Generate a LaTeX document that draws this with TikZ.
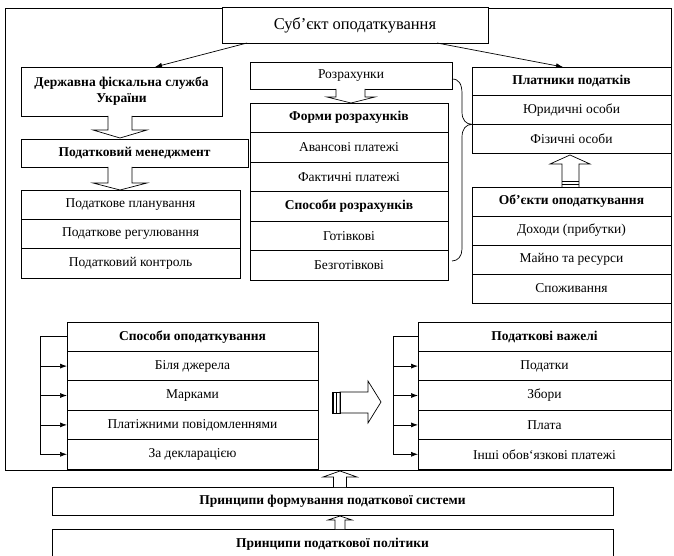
\documentclass[tikz,border=0pt]{standalone}
\usepackage{fontspec}
\setmainfont{Liberation Serif}
\usetikzlibrary{arrows.meta,calc}
\tikzset{
  cell/.style={draw, line width=0.7pt, inner sep=0pt, outer sep=0pt, anchor=north west, align=center, font=\fontsize{13.5}{16}\selectfont},
  bcell/.style={cell, font=\fontsize{13.5}{16}\selectfont\bfseries},
  tcell/.style={cell, font=\fontsize{16.5}{19}\selectfont},
  arr/.style={line width=0.7pt, -{Latex[length=7pt,width=5pt]}},
  ln/.style={line width=0.7pt},
  hollow/.style={line width=0.7pt, fill=white, line join=miter}
}
\newcommand\mycell[7]{\node[#6, minimum width=#4pt, minimum height=#5pt] (#1) at (#2,#3) {#7};}
\begin{document}
\begin{tikzpicture}[x=1pt,y=-1pt]
\useasboundingbox (0,0) rectangle (674,556);
% outer frame
\draw[ln] (5,8) rectangle (671,470);
% title
\mycell{title}{222}{7}{266}{36}{tcell,fill=white}{Суб’єкт оподаткування}
% left column
\mycell{dfs}{21}{67}{201}{49}{bcell}{Державна фіскальна служба\\України}
\mycell{men}{21}{139}{227}{28}{bcell}{Податковий менеджмент}
\mycell{l1}{21}{190}{219}{29.33}{cell}{Податкове планування}
\mycell{l2}{21}{219.33}{219}{29.33}{cell}{Податкове регулювання}
\mycell{l3}{21}{248.67}{219}{29.33}{cell}{Податковий контроль}
% middle column
\mycell{rozr}{250}{62}{202}{27}{cell}{Розрахунки}
\mycell{m1}{250}{103}{198}{29.5}{bcell}{Форми розрахунків}
\mycell{m2}{250}{132.5}{198}{29.5}{cell}{Авансові платежі}
\mycell{m3}{250}{162}{198}{29.5}{cell}{Фактичні платежі}
\mycell{m4}{250}{191.5}{198}{29.5}{bcell}{Способи розрахунків}
\mycell{m5}{250}{221}{198}{29.5}{cell}{Готівкові}
\mycell{m6}{250}{250.5}{198}{29.5}{cell}{Безготівкові}
% right column
\mycell{p1}{472}{67}{199}{28.67}{bcell}{Платники податків}
\mycell{p2}{472}{95.67}{199}{28.67}{cell}{Юридичні особи}
\mycell{p3}{472}{124.33}{199}{28.67}{cell}{Фізичні особи}
\mycell{o1}{472}{187}{199}{29}{bcell}{Об’єкти оподаткування}
\mycell{o2}{472}{216}{199}{29}{cell}{Доходи (прибутки)}
\mycell{o3}{472}{245}{199}{29}{cell}{Майно та ресурси}
\mycell{o4}{472}{274}{199}{29}{cell}{Споживання}
% lower lists
\mycell{s0}{67}{322}{251}{29.4}{bcell}{Способи оподаткування}
\mycell{s1}{67}{351.4}{251}{29.4}{cell}{Біля джерела}
\mycell{s2}{67}{380.8}{251}{29.4}{cell}{Марками}
\mycell{s3}{67}{410.2}{251}{29.4}{cell}{Платіжними повідомленнями}
\mycell{s4}{67}{439.6}{251}{29.4}{cell}{За декларацією}
\mycell{v0}{418}{322}{253}{29.4}{bcell}{Податкові важелі}
\mycell{v1}{418}{351.4}{253}{29.4}{cell}{Податки}
\mycell{v2}{418}{380.8}{253}{29.4}{cell}{Збори}
\mycell{v3}{418}{410.2}{253}{29.4}{cell}{Плата}
\mycell{v4}{418}{439.6}{253}{29.4}{cell}{Інші обов‘язкові платежі}
% bottom boxes
\mycell{b1}{52}{487}{561}{28}{bcell}{Принципи формування податкової системи}
\node[bcell, minimum width=561pt, minimum height=31pt] (b2) at (52,529) {\raisebox{3pt}{Принципи податкової політики}};
% arrows from title
\draw[arr] ([xshift=25pt]title.south west) -- ([xshift=33.5pt]dfs.north);
\draw[arr] ([xshift=215pt]title.south west) -- ([xshift=-8.5pt]p1.north);
% hollow arrows left
\draw[hollow] (108,116) -- (108,130) -- (93,130) -- (120,138) -- (147,130) -- (132,130) -- (132,116);
\draw[hollow] (108,167) -- (108,183) -- (93,183) -- (120,190) -- (147,183) -- (132,183) -- (132,167);
% hollow arrow middle
\draw[hollow] (336,89) -- (336,97) -- (327,97) -- (351,103) -- (375,97) -- (365,97) -- (365,89);
% hollow arrow up right
\draw[hollow] (562,187) -- (562,164) -- (550,164) -- (570,155) -- (590,164) -- (579,164) -- (579,187);
\draw[line width=1pt] (562,182) -- (579,182);
\draw[line width=1pt] (562,185) -- (579,185);
% brace
\draw[ln] ([yshift=-3.5pt]rozr.east) .. controls (459,79) and (462,84) .. (462,94) -- (462,112)
  .. controls (462,120) and (466,124.33) .. (p3.north west)
  .. controls (466,124.33) and (462,129) .. (462,137) -- (462,249)
  .. controls (462,256) and (458,261) .. (452,261);
% bracket arrows left
\coordinate (lb) at (40,336.7);
\draw[ln] (s0.west) -- (s0.west -| lb) -- (s4.west -| lb);
\foreach \i in {1,2,3,4} \draw[arr] (s\i.west -| lb) -- (s\i.west);
% bracket arrows right
\coordinate (rb) at (393,336.7);
\draw[ln] (v0.west) -- (v0.west -| rb) -- (v4.west -| rb);
\foreach \i in {1,2,3,4} \draw[arr] (v\i.west -| rb) -- (v\i.west);
% big arrow
\draw[hollow] (340,392) -- (368,392) -- (368,381) -- (381,402) -- (368,423) -- (368,413) -- (340,413) -- cycle;
\draw[ln] (332,392) rectangle (340,413);
\draw[ln] (333.5,392) -- (333.5,413);
\draw[ln] (336.5,392) -- (336.5,413);
% bottom arrows
\draw[hollow] (333.5,487) -- (333.5,477) -- (323,477) -- (340,471) -- (357,477) -- (346.5,477) -- (346.5,487);
\draw[hollow] (335,529) -- (335,520) -- (328,520) -- (340,516) -- (352,520) -- (345,520) -- (345,529);
\end{tikzpicture}
\end{document}
